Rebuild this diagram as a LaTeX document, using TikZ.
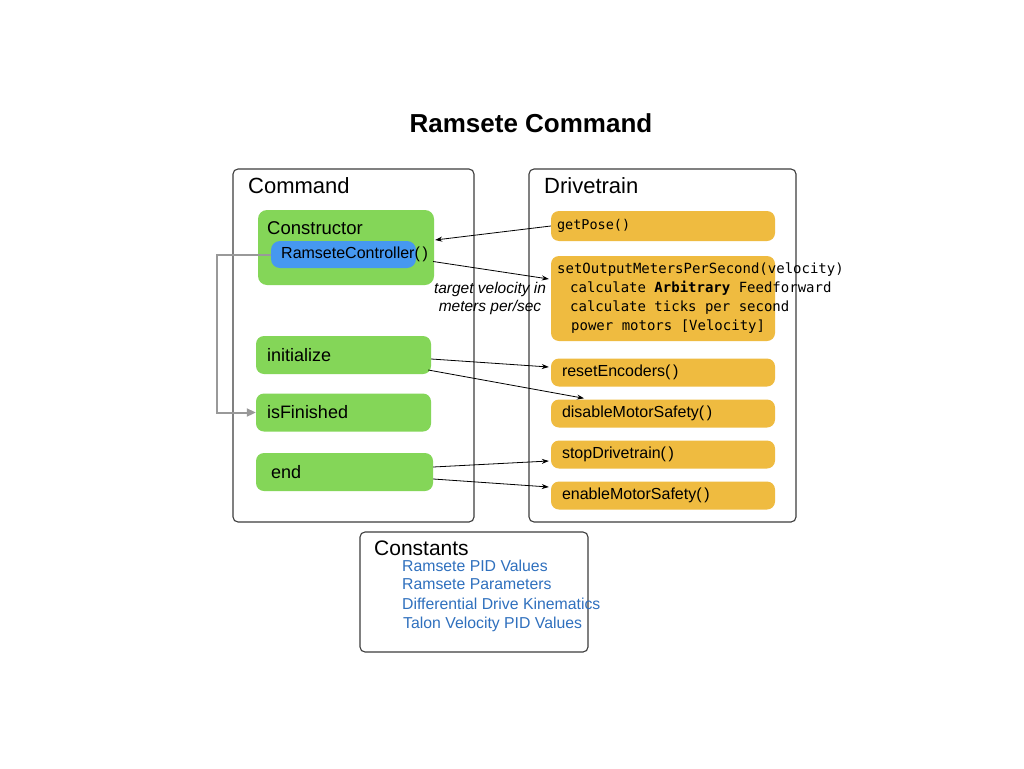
\documentclass[tikz,border=0pt]{standalone}
\usepackage{fontspec}
\setmainfont{Liberation Sans}
\newfontfamily\codefont{DejaVu Sans Mono}
\usetikzlibrary{arrows.meta}
\definecolor{cmdgreen}{RGB}{132,214,88}
\definecolor{ctlblue}{RGB}{70,152,240}
\definecolor{dtorange}{RGB}{239,187,64}
\definecolor{constblue}{RGB}{47,112,190}
\definecolor{framegray}{RGB}{60,60,60}
\newcommand{\fsz}[1]{\fontsize{#1}{#1}\selectfont}
\begin{document}
\begin{tikzpicture}[x=1pt,y=-1pt,
  every node/.style={font=\fsz{16}, inner sep=0pt},
  frame/.style={draw=framegray, line width=1.1pt, rounded corners=5pt},
  cmd/.style={fill=cmdgreen, rounded corners=8pt, minimum width=175pt, minimum height=38pt, text width=153pt, align=left, font=\fsz{18}},
  dt/.style={fill=dtorange, rounded corners=8pt, minimum width=224pt, minimum height=28pt, text width=202pt, align=left},
  item/.style={anchor=west, text=constblue, font=\fsz{15.8}},
  arr/.style={-{Stealth[length=7pt,width=5pt]}, line width=0.8pt}]
\useasboundingbox[fill=white] (0,0) rectangle (1024,768);
% title
\node[font=\fsz{26}\bfseries] (title) at (531,123) {Ramsete Command};
% frames
\node[frame, minimum width=241pt, minimum height=353pt] (command) at (353.5,345.5) {};
\node[anchor=west, font=\fsz{22}] (commandlbl) at (248,186) {Command};
\node[frame, minimum width=267pt, minimum height=353pt] (drive) at (662.5,345.5) {};
\node[anchor=west, font=\fsz{22}] (drivelbl) at (544,186) {Drivetrain};
\node[frame, minimum width=228pt, minimum height=120pt] (consts) at (474,592) {};
\node[anchor=west, font=\fsz{21}] (constslbl) at (374,548) {Constants};
% command methods
\node[fill=cmdgreen, rounded corners=9pt, minimum width=176pt, minimum height=75pt] (ctor) at (346,247.5) {};
\node[anchor=west, font=\fsz{18.5}] (ctorlbl) at (267,228) {Constructor};
\node[fill=ctlblue, rounded corners=9pt, minimum width=145pt, minimum height=27pt] (ramblue) at (343.5,254.5) {};
\node[anchor=west] (ramtxt) at (281,254.5) {RamseteController(\,)};
\node[cmd] (init) at (343.5,355) {initialize};
\node[cmd] (isfin) at (343.5,412.5) {isFinished};
\node[cmd, minimum width=177pt, text width=147pt] (endb) at (344.5,472) {end};
% drivetrain methods
\node[dt, minimum height=30pt, text width=212pt, font=\fsz{13.5}\codefont] (getpose) at (663,226) {getPose()};
\node[fill=dtorange, rounded corners=8pt, minimum width=224pt, minimum height=85pt] (setout) at (663,298.5) {};
\node[anchor=west, align=left, font=\fsz{14}\codefont, execute at begin node={\baselineskip=19pt}] (setouttxt) at (557,298)
  {setOutputMetersPerSecond(velocity)\\
   \hspace*{13pt}calculate \textbf{Arbitrary} Feedforward\\
   \hspace*{13pt}calculate ticks per second\\
   \hspace*{14pt}power motors [Velocity]};
\node[dt] (reset) at (663,372.5) {resetEncoders(\,)};
\node[dt] (disable) at (663,413.5) {disableMotorSafety(\,)};
\node[dt] (stop) at (663,454.5) {stopDrivetrain(\,)};
\node[dt] (enable) at (663,495.5) {enableMotorSafety(\,)};
% constants
\node[item] (pidvals) at (402,566) {Ramsete PID Values};
\node[item] (params) at (402,584) {Ramsete Parameters};
\node[item] (kinem) at (402,604) {Differential Drive Kinematics};
\node[item] (talon) at (403,624) {Talon Velocity PID Values};
% connectors
\draw[arr] (getpose.west) -- ([xshift=1pt,yshift=7.5pt]ctor.east);
\draw[arr] ([xshift=5pt,yshift=-7pt]ramtxt.east) -- ([xshift=-2pt,yshift=19.5pt]setout.west);
\node[align=center, font=\fsz{15.5}\itshape, execute at begin node={\baselineskip=18pt}] (vellbl) at (490,298.5) {target velocity in\\meters per/sec};
\draw[arr] ([yshift=-4pt]init.east) -- ([xshift=-2pt,yshift=5.5pt]reset.west);
\draw[arr] ([xshift=-3pt,yshift=-15pt]init.east) -- ([xshift=-79pt,yshift=1pt]disable.north);
\draw[arr] ([yshift=5pt]endb.east) -- ([xshift=-2pt,yshift=-6.5pt]stop.west);
\draw[arr] ([yshift=-7pt]endb.east) -- ([xshift=-2pt,yshift=8.5pt]enable.west);
\draw[gray!80, line width=2pt, -{Triangle[length=9pt,width=8pt]}] (ramblue.west) -- ++(-54,0) |- (isfin.west);
\end{tikzpicture}
\end{document}
